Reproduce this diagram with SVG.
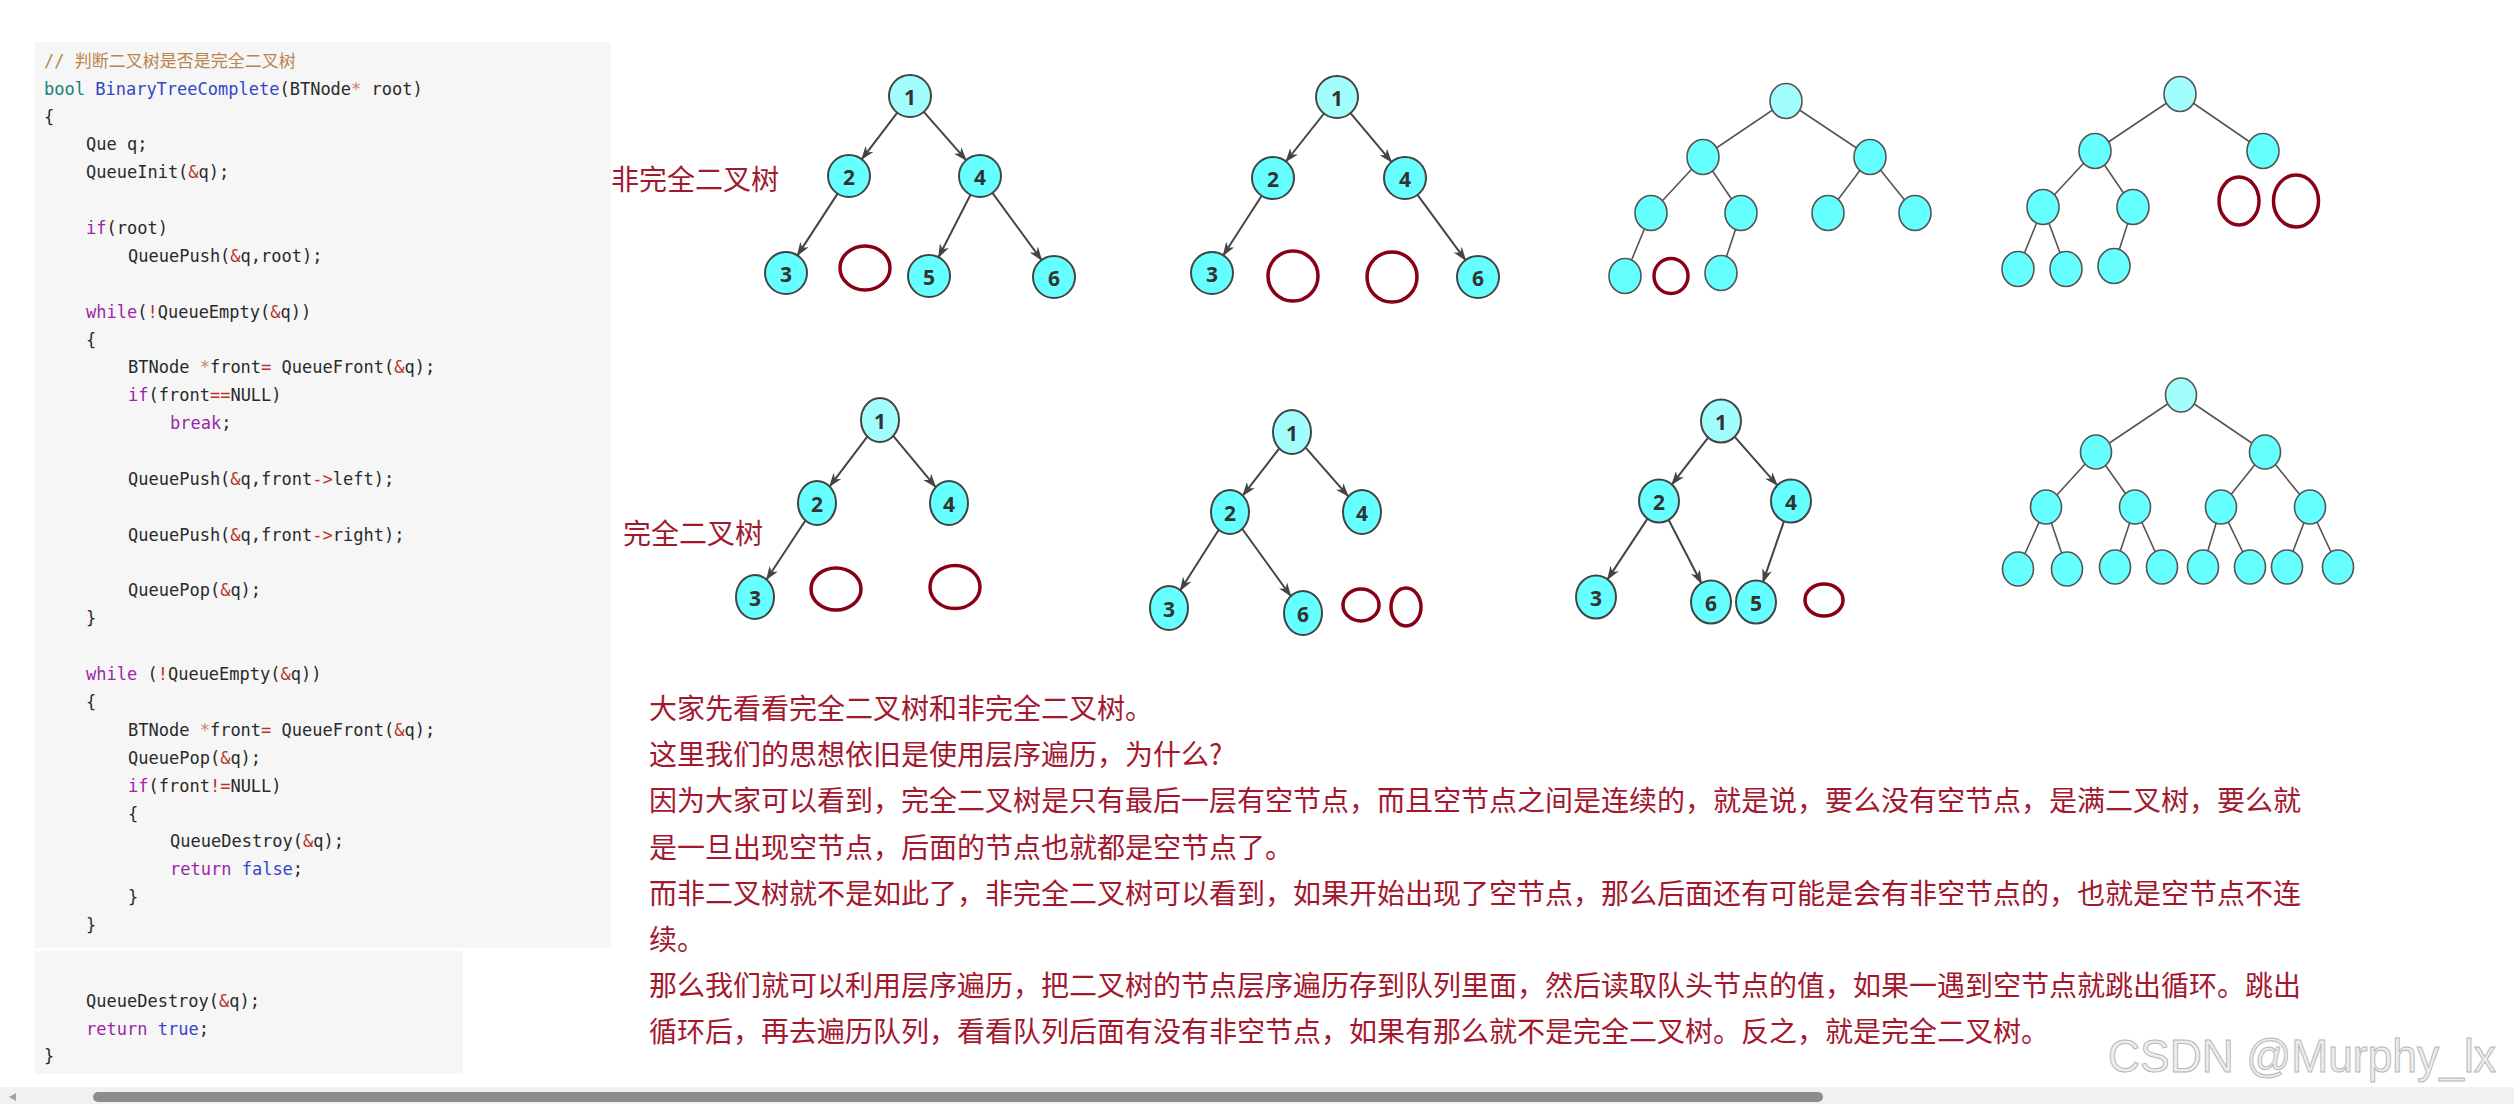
<svg xmlns="http://www.w3.org/2000/svg" width="2514" height="1104" viewBox="0 0 2514 1104">
<defs>
<style>
.code{font-family:"DejaVu Sans Mono","Liberation Mono","Noto Sans CJK SC",monospace;font-size:17px;fill:#2a2a2a;dominant-baseline:central}
.cm{fill:#b9854e}
.ty{fill:#11847a}
.fn{fill:#3446c8}
.kw{fill:#9b27a8}
.lit{fill:#3446c8}
.op{fill:#b5352b}
.st{fill:#d27f76}
.lbl{font-family:"Noto Sans CJK SC","Noto Sans",sans-serif;font-size:28px;fill:#a0192e;dominant-baseline:central}
.par{font-family:"Noto Sans CJK SC","Noto Sans",sans-serif;font-size:28px;fill:#a3182f;dominant-baseline:central}
.n{fill:#66ffff;stroke:#444;stroke-width:2}
.nr{fill:#a2fdfd;stroke:#444;stroke-width:2}
.u{fill:#66ffff;stroke:#555;stroke-width:1.6}
.ur{fill:#a2fdfd;stroke:#555;stroke-width:1.6}
.e{fill:none;stroke:#880015;stroke-width:3.5}
.num{font-family:"Open Sans","Noto Sans",sans-serif;font-weight:700;font-size:21px;fill:#333;text-anchor:middle;dominant-baseline:central}
.a{stroke:#444;stroke-width:2;fill:none;marker-end:url(#arr)}
.l{stroke:#555;stroke-width:1.6;fill:none}
.wm{font-family:"Liberation Sans",Arial,sans-serif;font-size:46px;fill:#ededed;stroke:#b8b8b8;stroke-width:1}
</style>
<marker id="arr" markerWidth="14" markerHeight="10" refX="13" refY="5" orient="auto" markerUnits="userSpaceOnUse">
<path d="M0,0 L14,5 L0,10 L4,5 z" fill="#444"/>
</marker>
</defs>
<rect width="2514" height="1104" fill="#ffffff"/>

<g id="code">
<rect x="35" y="42" width="576" height="906" fill="#f6f6f6"/>
<rect x="35" y="951" width="428" height="123" fill="#f6f6f6"/>
<text class="code" x="44" y="60.7" xml:space="preserve"><tspan class="cm">// 判断二叉树是否是完全二叉树</tspan></text>
<text class="code" x="44" y="88.6" xml:space="preserve"><tspan class="ty">bool</tspan> <tspan class="fn">BinaryTreeComplete</tspan>(BTNode<tspan class="st">*</tspan> root)</text>
<text class="code" x="44" y="116.5">{</text>
<text class="code" x="86" y="144.3" xml:space="preserve">Que q;</text>
<text class="code" x="86" y="172.2">QueueInit(<tspan class="op">&amp;</tspan>q);</text>
<text class="code" x="86" y="228.0"><tspan class="kw">if</tspan>(root)</text>
<text class="code" x="128" y="255.9">QueuePush(<tspan class="op">&amp;</tspan>q,root);</text>
<text class="code" x="86" y="311.6"><tspan class="kw">while</tspan>(<tspan class="op">!</tspan>QueueEmpty(<tspan class="op">&amp;</tspan>q))</text>
<text class="code" x="86" y="339.5">{</text>
<text class="code" x="128" y="367.4" xml:space="preserve">BTNode <tspan class="st">*</tspan>front<tspan class="op">=</tspan> QueueFront(<tspan class="op">&amp;</tspan>q);</text>
<text class="code" x="128" y="395.3"><tspan class="kw">if</tspan>(front<tspan class="op">==</tspan>NULL)</text>
<text class="code" x="170" y="423.1"><tspan class="kw">break</tspan>;</text>
<text class="code" x="128" y="478.9">QueuePush(<tspan class="op">&amp;</tspan>q,front<tspan class="op">-&gt;</tspan>left);</text>
<text class="code" x="128" y="534.7">QueuePush(<tspan class="op">&amp;</tspan>q,front<tspan class="op">-&gt;</tspan>right);</text>
<text class="code" x="128" y="590.4">QueuePop(<tspan class="op">&amp;</tspan>q);</text>
<text class="code" x="86" y="618.3">}</text>
<text class="code" x="86" y="674.1" xml:space="preserve"><tspan class="kw">while</tspan> (<tspan class="op">!</tspan>QueueEmpty(<tspan class="op">&amp;</tspan>q))</text>
<text class="code" x="86" y="701.9">{</text>
<text class="code" x="128" y="729.8" xml:space="preserve">BTNode <tspan class="st">*</tspan>front<tspan class="op">=</tspan> QueueFront(<tspan class="op">&amp;</tspan>q);</text>
<text class="code" x="128" y="757.7">QueuePop(<tspan class="op">&amp;</tspan>q);</text>
<text class="code" x="128" y="785.6"><tspan class="kw">if</tspan>(front<tspan class="op">!=</tspan>NULL)</text>
<text class="code" x="128" y="813.5">{</text>
<text class="code" x="170" y="841.3">QueueDestroy(<tspan class="op">&amp;</tspan>q);</text>
<text class="code" x="170" y="869.2" xml:space="preserve"><tspan class="kw">return</tspan> <tspan class="lit">false</tspan>;</text>
<text class="code" x="128" y="897.1">}</text>
<text class="code" x="86" y="925.0">}</text>
<text class="code" x="86" y="1001">QueueDestroy(<tspan class="op">&amp;</tspan>q);</text>
<text class="code" x="86" y="1028.7" xml:space="preserve"><tspan class="kw">return</tspan> <tspan class="lit">true</tspan>;</text>
<text class="code" x="44" y="1056.4">}</text>
</g>

<g id="labels">
<text class="lbl" x="611" y="178">非完全二叉树</text>
<text class="lbl" x="623" y="532">完全二叉树</text>
</g>

<g id="connectors">
<line class="a" x1="897.3" y1="112.7" x2="861.7" y2="159.3"/>
<line class="a" x1="923.8" y1="111.8" x2="966.2" y2="160.2"/>
<line class="a" x1="837.6" y1="193.6" x2="797.4" y2="255.4"/>
<line class="a" x1="970.5" y1="194.7" x2="938.5" y2="257.3"/>
<line class="a" x1="992.4" y1="192.9" x2="1041.6" y2="260.1"/>
<line class="a" x1="1324" y1="113.5" x2="1286" y2="161.5"/>
<line class="a" x1="1350.5" y1="113.1" x2="1391.5" y2="161.9"/>
<line class="a" x1="1261.7" y1="195.7" x2="1223.3" y2="255.3"/>
<line class="a" x1="1417.5" y1="194.9" x2="1465.5" y2="260.1"/>
<line class="l" x1="1786" y1="101" x2="1703" y2="157"/>
<line class="l" x1="1786" y1="101" x2="1870" y2="157"/>
<line class="l" x1="1703" y1="157" x2="1651" y2="213"/>
<line class="l" x1="1703" y1="157" x2="1741" y2="213"/>
<line class="l" x1="1870" y1="157" x2="1828" y2="213"/>
<line class="l" x1="1870" y1="157" x2="1915" y2="213"/>
<line class="l" x1="1651" y1="213" x2="1625" y2="276"/>
<line class="l" x1="1741" y1="213" x2="1721" y2="273"/>
<line class="l" x1="2180" y1="94" x2="2095" y2="151"/>
<line class="l" x1="2180" y1="94" x2="2263" y2="151"/>
<line class="l" x1="2095" y1="151" x2="2043" y2="207"/>
<line class="l" x1="2095" y1="151" x2="2133" y2="207"/>
<line class="l" x1="2043" y1="207" x2="2018" y2="269"/>
<line class="l" x1="2043" y1="207" x2="2066" y2="269"/>
<line class="l" x1="2133" y1="207" x2="2114" y2="266"/>
<line class="a" x1="867.3" y1="436.7" x2="829.7" y2="486.3"/>
<line class="a" x1="893.4" y1="436.1" x2="935.6" y2="486.9"/>
<line class="a" x1="805.4" y1="520.5" x2="766.6" y2="579.5"/>
<line class="a" x1="1279.1" y1="448.6" x2="1242.9" y2="495.4"/>
<line class="a" x1="1305.8" y1="447.8" x2="1348.2" y2="496.2"/>
<line class="a" x1="1218.7" y1="529.7" x2="1180.3" y2="590.3"/>
<line class="a" x1="1242.3" y1="529" x2="1290.7" y2="596"/>
<line class="a" x1="1708.1" y1="437.6" x2="1671.9" y2="484.4"/>
<line class="a" x1="1734.8" y1="436.8" x2="1777.2" y2="485.2"/>
<line class="a" x1="1647.5" y1="518.6" x2="1607.5" y2="579.4"/>
<line class="a" x1="1668.6" y1="519.7" x2="1701.4" y2="583.3"/>
<line class="a" x1="1784.1" y1="520.8" x2="1762.9" y2="582.2"/>
<line class="l" x1="2181" y1="395" x2="2096" y2="452"/>
<line class="l" x1="2181" y1="395" x2="2265" y2="452"/>
<line class="l" x1="2096" y1="452" x2="2046" y2="507"/>
<line class="l" x1="2096" y1="452" x2="2135" y2="507"/>
<line class="l" x1="2265" y1="452" x2="2221" y2="507"/>
<line class="l" x1="2265" y1="452" x2="2310" y2="507"/>
<line class="l" x1="2046" y1="507" x2="2018" y2="569"/>
<line class="l" x1="2046" y1="507" x2="2067" y2="569"/>
<line class="l" x1="2135" y1="507" x2="2115" y2="567"/>
<line class="l" x1="2135" y1="507" x2="2162" y2="567"/>
<line class="l" x1="2221" y1="507" x2="2203" y2="567"/>
<line class="l" x1="2221" y1="507" x2="2250" y2="567"/>
<line class="l" x1="2310" y1="507" x2="2287" y2="567"/>
<line class="l" x1="2310" y1="507" x2="2338" y2="567"/>
</g>

<g id="t1-n1"><ellipse class="nr" cx="910" cy="96" rx="21" ry="21"/><text class="num" x="910" y="97">1</text></g>
<g id="t1-n2"><ellipse class="n" cx="849" cy="176" rx="21" ry="21"/><text class="num" x="849" y="177">2</text></g>
<g id="t1-n4"><ellipse class="n" cx="980" cy="176" rx="21" ry="21"/><text class="num" x="980" y="177">4</text></g>
<g id="t1-n3"><ellipse class="n" cx="786" cy="273" rx="21" ry="21"/><text class="num" x="786" y="274">3</text></g>
<g id="t1-e1"><ellipse class="e" cx="865" cy="268" rx="25" ry="22"/></g>
<g id="t1-n5"><ellipse class="n" cx="929" cy="276" rx="21" ry="21"/><text class="num" x="929" y="277">5</text></g>
<g id="t1-n6"><ellipse class="n" cx="1054" cy="277" rx="21" ry="21"/><text class="num" x="1054" y="278">6</text></g>

<g id="t2-n1"><ellipse class="nr" cx="1337" cy="97" rx="21" ry="21"/><text class="num" x="1337" y="98">1</text></g>
<g id="t2-n2"><ellipse class="n" cx="1273" cy="178" rx="21" ry="21"/><text class="num" x="1273" y="179">2</text></g>
<g id="t2-n4"><ellipse class="n" cx="1405" cy="178" rx="21" ry="21"/><text class="num" x="1405" y="179">4</text></g>
<g id="t2-n3"><ellipse class="n" cx="1212" cy="273" rx="21" ry="21"/><text class="num" x="1212" y="274">3</text></g>
<g id="t2-e1"><ellipse class="e" cx="1293" cy="276" rx="25" ry="25"/></g>
<g id="t2-e2"><ellipse class="e" cx="1392" cy="277" rx="25" ry="25"/></g>
<g id="t2-n6"><ellipse class="n" cx="1478" cy="277" rx="21" ry="21"/><text class="num" x="1478" y="278">6</text></g>

<g id="t3-root"><ellipse class="ur" cx="1786" cy="101" rx="16" ry="17.5"/></g>
<g id="t3-a"><ellipse class="u" cx="1703" cy="157" rx="16" ry="17.5"/></g>
<g id="t3-b"><ellipse class="u" cx="1870" cy="157" rx="16" ry="17.5"/></g>
<g id="t3-c"><ellipse class="u" cx="1651" cy="213" rx="16" ry="17.5"/></g>
<g id="t3-d"><ellipse class="u" cx="1741" cy="213" rx="16" ry="17.5"/></g>
<g id="t3-e"><ellipse class="u" cx="1828" cy="213" rx="16" ry="17.5"/></g>
<g id="t3-f"><ellipse class="u" cx="1915" cy="213" rx="16" ry="17.5"/></g>
<g id="t3-g"><ellipse class="u" cx="1625" cy="276" rx="16" ry="17.5"/></g>
<g id="t3-empty"><ellipse class="e" cx="1671" cy="276" rx="17" ry="17.5"/></g>
<g id="t3-h"><ellipse class="u" cx="1721" cy="273" rx="16" ry="17.5"/></g>

<g id="t4-root"><ellipse class="ur" cx="2180" cy="94" rx="16" ry="17.5"/></g>
<g id="t4-a"><ellipse class="u" cx="2095" cy="151" rx="16" ry="17.5"/></g>
<g id="t4-b"><ellipse class="u" cx="2263" cy="151" rx="16" ry="17.5"/></g>
<g id="t4-c"><ellipse class="u" cx="2043" cy="207" rx="16" ry="17.5"/></g>
<g id="t4-d"><ellipse class="u" cx="2133" cy="207" rx="16" ry="17.5"/></g>
<g id="t4-e"><ellipse class="u" cx="2018" cy="269" rx="16" ry="17.5"/></g>
<g id="t4-f"><ellipse class="u" cx="2066" cy="269" rx="16" ry="17.5"/></g>
<g id="t4-g"><ellipse class="u" cx="2114" cy="266" rx="16" ry="17.5"/></g>
<g id="t4-empty1"><ellipse class="e" cx="2239" cy="201" rx="20" ry="24"/></g>
<g id="t4-empty2"><ellipse class="e" cx="2296" cy="201" rx="22.5" ry="26"/></g>

<g id="t5-n1"><ellipse class="nr" cx="880" cy="420" rx="19" ry="22"/><text class="num" x="880" y="421">1</text></g>
<g id="t5-n2"><ellipse class="n" cx="817" cy="503" rx="19" ry="22"/><text class="num" x="817" y="504">2</text></g>
<g id="t5-n4"><ellipse class="n" cx="949" cy="503" rx="19" ry="22"/><text class="num" x="949" y="504">4</text></g>
<g id="t5-n3"><ellipse class="n" cx="755" cy="597" rx="19" ry="22"/><text class="num" x="755" y="598">3</text></g>
<g id="t5-e1"><ellipse class="e" cx="836" cy="589" rx="25" ry="21"/></g>
<g id="t5-e2"><ellipse class="e" cx="955" cy="587" rx="25" ry="21.5"/></g>

<g id="t6-n1"><ellipse class="nr" cx="1292" cy="432" rx="19" ry="22"/><text class="num" x="1292" y="433">1</text></g>
<g id="t6-n2"><ellipse class="n" cx="1230" cy="512" rx="19" ry="22"/><text class="num" x="1230" y="513">2</text></g>
<g id="t6-n4"><ellipse class="n" cx="1362" cy="512" rx="19" ry="22"/><text class="num" x="1362" y="513">4</text></g>
<g id="t6-n3"><ellipse class="n" cx="1169" cy="608" rx="19" ry="22"/><text class="num" x="1169" y="609">3</text></g>
<g id="t6-n6"><ellipse class="n" cx="1303" cy="613" rx="19" ry="22"/><text class="num" x="1303" y="614">6</text></g>
<g id="t6-e1"><ellipse class="e" cx="1361" cy="605" rx="18" ry="16"/></g>
<g id="t6-e2"><ellipse class="e" cx="1406" cy="607" rx="15" ry="19"/></g>

<g id="t7-n1"><ellipse class="nr" cx="1721" cy="421" rx="20" ry="21.5"/><text class="num" x="1721" y="422">1</text></g>
<g id="t7-n2"><ellipse class="n" cx="1659" cy="501" rx="20" ry="21.5"/><text class="num" x="1659" y="502">2</text></g>
<g id="t7-n4"><ellipse class="n" cx="1791" cy="501" rx="20" ry="21.5"/><text class="num" x="1791" y="502">4</text></g>
<g id="t7-n3"><ellipse class="n" cx="1596" cy="597" rx="20" ry="21.5"/><text class="num" x="1596" y="598">3</text></g>
<g id="t7-n6"><ellipse class="n" cx="1711" cy="602" rx="20" ry="21.5"/><text class="num" x="1711" y="603">6</text></g>
<g id="t7-n5"><ellipse class="n" cx="1756" cy="602" rx="20" ry="21.5"/><text class="num" x="1756" y="603">5</text></g>
<g id="t7-e1"><ellipse class="e" cx="1824" cy="600" rx="19" ry="16"/></g>

<g id="t8-root"><ellipse class="ur" cx="2181" cy="395" rx="15.5" ry="17"/></g>
<g id="t8-a"><ellipse class="u" cx="2096" cy="452" rx="15.5" ry="17"/></g>
<g id="t8-b"><ellipse class="u" cx="2265" cy="452" rx="15.5" ry="17"/></g>
<g id="t8-c"><ellipse class="u" cx="2046" cy="507" rx="15.5" ry="17"/></g>
<g id="t8-d"><ellipse class="u" cx="2135" cy="507" rx="15.5" ry="17"/></g>
<g id="t8-e"><ellipse class="u" cx="2221" cy="507" rx="15.5" ry="17"/></g>
<g id="t8-f"><ellipse class="u" cx="2310" cy="507" rx="15.5" ry="17"/></g>
<g id="t8-l1"><ellipse class="u" cx="2018" cy="569" rx="15.5" ry="17"/></g>
<g id="t8-l2"><ellipse class="u" cx="2067" cy="569" rx="15.5" ry="17"/></g>
<g id="t8-l3"><ellipse class="u" cx="2115" cy="567" rx="15.5" ry="17"/></g>
<g id="t8-l4"><ellipse class="u" cx="2162" cy="567" rx="15.5" ry="17"/></g>
<g id="t8-l5"><ellipse class="u" cx="2203" cy="567" rx="15.5" ry="17"/></g>
<g id="t8-l6"><ellipse class="u" cx="2250" cy="567" rx="15.5" ry="17"/></g>
<g id="t8-l7"><ellipse class="u" cx="2287" cy="567" rx="15.5" ry="17"/></g>
<g id="t8-l8"><ellipse class="u" cx="2338" cy="567" rx="15.5" ry="17"/></g>

<g id="paragraph">
<text class="par" x="649" y="707">大家先看看完全二叉树和非完全二叉树。</text>
<text class="par" x="649" y="753">这里我们的思想依旧是使用层序遍历，为什么?</text>
<text class="par" x="649" y="799">因为大家可以看到，完全二叉树是只有最后一层有空节点，而且空节点之间是连续的，就是说，要么没有空节点，是满二叉树，要么就</text>
<text class="par" x="649" y="846">是一旦出现空节点，后面的节点也就都是空节点了。</text>
<text class="par" x="649" y="892">而非二叉树就不是如此了，非完全二叉树可以看到，如果开始出现了空节点，那么后面还有可能是会有非空节点的，也就是空节点不连</text>
<text class="par" x="649" y="938">续。</text>
<text class="par" x="649" y="984">那么我们就可以利用层序遍历，把二叉树的节点层序遍历存到队列里面，然后读取队头节点的值，如果一遇到空节点就跳出循环。跳出</text>
<text class="par" x="649" y="1030">循环后，再去遍历队列，看看队列后面有没有非空节点，如果有那么就不是完全二叉树。反之，就是完全二叉树。</text>
</g>

<g id="scrollbar">
<rect x="0" y="1087" width="2514" height="17" fill="#f1f1f1"/>
<rect x="93" y="1092" width="1730" height="10" rx="5" fill="#8c8c8c"/>
<path d="M9,1097 L16,1093 L16,1101 Z" fill="#a3a3a3"/>
</g>

<text class="wm" x="2108" y="1072" textLength="388" lengthAdjust="spacingAndGlyphs">CSDN @Murphy_lx</text>
</svg>
